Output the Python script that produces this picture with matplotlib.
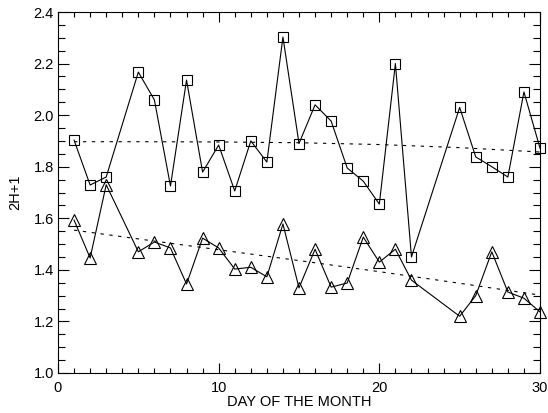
import matplotlib
matplotlib.use("Agg")
import matplotlib.pyplot as plt
from matplotlib.ticker import MultipleLocator

plt.rcParams['font.family'] = ['Liberation Sans', 'DejaVu Sans']

days = [1, 2, 3, 5, 6, 7, 8, 9, 10, 11, 12, 13, 14, 15, 16, 17, 18, 19, 20,
        21, 22, 25, 26, 27, 28, 29, 30]

upper_vals = [1.903, 1.729, 1.76, 2.167, 2.059, 1.725, 2.136, 1.779, 1.884,
              1.706, 1.90, 1.818, 2.303, 1.89, 2.04, 1.977, 1.795, 1.744,
              1.655, 2.20, 1.45, 2.03, 1.838, 1.80, 1.76, 2.09, 1.872]

lower_vals = [1.593, 1.446, 1.73, 1.47, 1.508, 1.485, 1.345, 1.523, 1.485,
              1.403, 1.41, 1.373, 1.578, 1.33, 1.48, 1.333, 1.349, 1.527,
              1.43, 1.48, 1.36, 1.22, 1.30, 1.47, 1.314, 1.29, 1.237]

trend_days = [1, 5, 10, 15, 20, 25, 30]
upper_trend = [1.897, 1.897, 1.896, 1.893, 1.886, 1.874, 1.857]
lower_trend = [1.554, 1.520, 1.478, 1.436, 1.393, 1.348, 1.302]

x_ticks = [0, 10, 20, 30]
y_ticks = [1.0, 1.2, 1.4, 1.6, 1.8, 2.0, 2.2, 2.4]

fig = plt.figure(figsize=(5.48, 4.13), dpi=100)
ax = fig.add_axes([58 / 548, 1 - 373 / 413, (540 - 58) / 548, (373 - 12) / 413])

ax.plot(days, upper_vals, color='black', lw=0.8, marker='s', ms=7,
        mfc='none', mec='black', mew=0.8, clip_on=False, zorder=3)
ax.plot(days, lower_vals, color='black', lw=0.8, marker='^', ms=8,
        mfc='none', mec='black', mew=0.8, clip_on=False, zorder=3)

ax.plot(trend_days, upper_trend, color='black', lw=0.8, ls=(0, (3, 5)))
ax.plot(trend_days, lower_trend, color='black', lw=0.8, ls=(0, (3, 5)))

ax.set_xlim(0, 30)
ax.set_ylim(1.0, 2.4)
ax.set_xticks(x_ticks)
ax.set_yticks(y_ticks)
ax.set_xticklabels([str(t) for t in x_ticks])
ax.set_yticklabels([f"{t:.1f}" for t in y_ticks])
ax.xaxis.set_minor_locator(MultipleLocator(1))
ax.yaxis.set_minor_locator(MultipleLocator(0.05))

ax.tick_params(which='both', direction='in', top=True, right=True,
               width=0.8, labelsize=10.5, colors='black')
ax.tick_params(axis='x', which='major', length=7, pad=6)
ax.tick_params(axis='x', which='minor', length=3.5)
ax.tick_params(axis='y', which='major', length=8, pad=3)
ax.tick_params(axis='y', which='minor', length=5)

for s in ax.spines.values():
    s.set_linewidth(0.8)

ax.set_xlabel("DAY OF THE MONTH", fontsize=10.5, labelpad=0)
ax.set_ylabel("2H+1", fontsize=10.5, labelpad=8)

fig.savefig("out.png", dpi=100)
